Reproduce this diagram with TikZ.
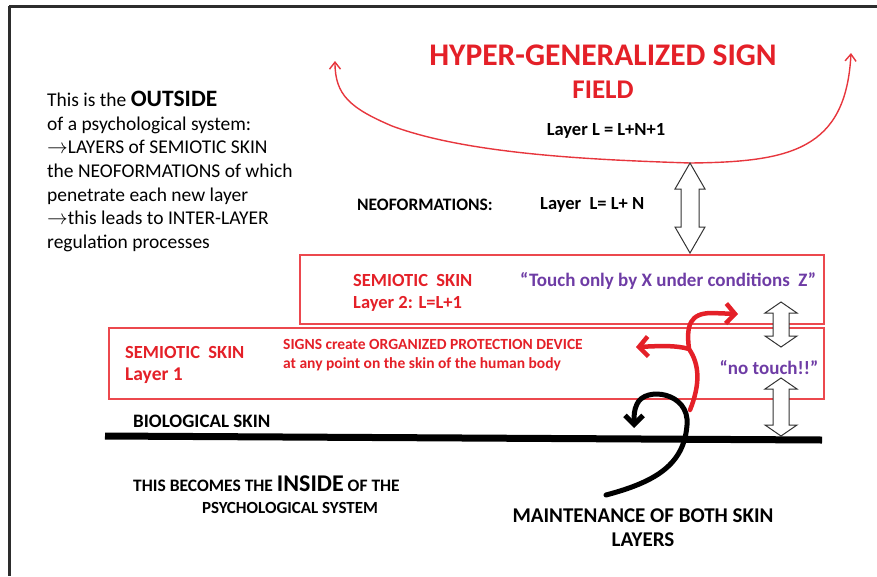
\documentclass[tikz,border=0pt]{standalone}
\usepackage{fontspec}
\setmainfont{Carlito}
\usetikzlibrary{arrows.meta}
\definecolor{signred}{RGB}{228,32,40}
\definecolor{boxred}{RGB}{236,72,78}
\definecolor{touchviolet}{RGB}{110,60,165}
\definecolor{framegray}{RGB}{45,45,45}
\newcommand{\fsz}[2]{\fontsize{#1}{#2}\selectfont}
% hollow up/down arrow: x, y top, y bottom, half head, half shaft, head length
\newcommand{\hollowarrow}[6]{%
  \draw[hollow] (#1,#2) -- (#1+#4,#2+#6) -- (#1+#5,#2+#6) -- (#1+#5,#3-#6)
    -- (#1+#4,#3-#6) -- (#1,#3) -- (#1-#4,#3-#6) -- (#1-#5,#3-#6)
    -- (#1-#5,#2+#6) -- (#1-#4,#2+#6) -- cycle;}

\begin{document}
\begin{tikzpicture}[x=1pt,y=-1pt,
  txt/.style={inner sep=0pt,font=\bfseries},
  redtxt/.style={txt,text=signred},
  violettxt/.style={txt,text=touchviolet},
  skinbox/.style={draw=boxred,line width=1.3pt,inner sep=0pt},
  hollow/.style={draw=black!80,fill=white,line width=1pt,line join=miter},
  fieldcurve/.style={draw=signred!90,line width=1.4pt,
    {Straight Barb[length=7pt,width=11pt]}-{Straight Barb[length=7pt,width=11pt]}},
  redpush/.style={draw=signred,line width=4.5pt,line cap=round,
    -{Straight Barb[length=9pt,width=20pt]}},
  blackpush/.style={draw=black,line width=5pt,line cap=round,
    -{Straight Barb[length=9pt,width=18pt]}}]
\useasboundingbox (0,0) rectangle (877,576);

% frame (top and left only)
\draw[framegray,line width=3pt] (9,6) -- (877,6);
\draw[framegray,line width=3pt] (9,6) -- (9,576);

% the sign field on top
\node[redtxt,font=\bfseries\fsz{31.5}{34}] (hyper) at (603,55) {HYPER-GENERALIZED SIGN};
\node[redtxt,font=\bfseries\fsz{27}{30}] (field) at (603,90) {FIELD};
\coordinate (fieldL) at (335,61);
\coordinate (fieldM) at (690,163);
\coordinate (fieldR) at (851,53);
\draw[fieldcurve] (fieldL) .. controls (335,95) and (350,108) .. (392,126)
  .. controls (470,155) and (600,160) .. (fieldM)
  .. controls (790,162) and (846,150) .. (fieldR);
\node[txt,font=\bfseries\fsz{18.5}{21}] (layerN1) at (606,131) {Layer L = L+N+1};

\node[txt,anchor=west,font=\bfseries\fsz{17.5}{20}] (neo) at (357,205) {NEOFORMATIONS:};
\node[txt,anchor=west,font=\bfseries\fsz{18.5}{21}] (layerN) at (540,205) {Layer\ \ L= L+ N};

% outside text
\node[anchor=north west,align=left,inner sep=0pt,font=\fsz{19.5}{23.6}] (outside) at (47,91)
  {This is the {\bfseries\fsz{23.5}{23.6}OUTSIDE}\\
   of a psychological system:\\
   $\rightarrow$LAYERS of SEMIOTIC SKIN\\
   the NEOFORMATIONS of which\\
   penetrate each new layer\\
   $\rightarrow$this leads to INTER-LAYER\\
   regulation processes};

% skin layers
\node[skinbox,minimum width=524pt,minimum height=69pt] (layer2) at (562,289.5) {};
\node[skinbox,minimum width=715pt,minimum height=71pt] (layer1) at (466.5,363.5) {};

\node[redtxt,anchor=west,font=\bfseries\fsz{18.5}{21}] (sem2) at (353,280) {SEMIOTIC\ \ SKIN};
\node[redtxt,anchor=west,font=\bfseries\fsz{18.5}{21}] (lay2) at (353,304) {Layer 2: L=L+1};
\node[violettxt,anchor=west,font=\bfseries\fsz{19}{22}] (touch) at (520,281)
  {``Touch only by X under conditions\ \ Z''};

\node[redtxt,anchor=west,font=\bfseries\fsz{18.5}{21}] (sem1) at (125,352) {SEMIOTIC\ \ SKIN};
\node[redtxt,anchor=west,font=\bfseries\fsz{19.5}{21}] (lay1) at (125,376) {Layer 1};
\node[redtxt,anchor=west,font=\bfseries\fsz{15.5}{18}] (signs) at (283,344)
  {SIGNS create ORGANIZED PROTECTION DEVICE};
\node[redtxt,anchor=west,font=\bfseries\fsz{15.5}{18}] (point) at (283,364)
  {at any point on the skin of the human body};
\node[violettxt,font=\bfseries\fsz{19}{22}] (notouch) at (769,368) {``no touch!!''};

% neoformation arrows
\hollowarrow{690}{163}{253}{15}{9}{26}
\hollowarrow{781}{302}{347}{16}{8}{11}
\hollowarrow{781}{378}{436}{16}{8}{11}

% biological skin
\coordinate (bioL) at (105,436);
\coordinate (bioR) at (822,440);
\draw[line width=7pt] (bioL) -- (bioR);
\node[txt,anchor=west,font=\bfseries\fsz{19}{21}] (bio) at (133,421) {BIOLOGICAL SKIN};

% maintenance arrows
\coordinate (tail) at (606,495);
\coordinate (cross) at (687,425);
\coordinate (stem) at (690,410);
\coordinate (fork) at (689,349);
\coordinate (tipL) at (636,347);
\coordinate (tipR) at (738,314);
\coordinate (tipB) at (634,428);
\draw[blackpush] (tail) .. controls (655,482) and (684,465) .. (cross)
  .. controls (690,392) and (645,386) .. (637,404)
  .. controls (634,410) and (634,416) .. (tipB);
\draw[redpush] (stem) .. controls (700,385) and (700,365) .. (fork)
  .. controls (675,345) and (660,346) .. (tipL);
\draw[redpush] (fork) .. controls (686,325) and (690,313) .. (712,313) -- (tipR);

% inside text
\node[txt,anchor=west,font=\bfseries\fsz{17.5}{20}] (inside) at (133,484)
  {THIS BECOMES THE {\fsz{24}{26}INSIDE} OF THE};
\node[txt,font=\bfseries\fsz{17}{19}] (psy) at (290,508) {PSYCHOLOGICAL SYSTEM};
\node[txt,font=\bfseries\fsz{21}{24}] (maint) at (643,516) {MAINTENANCE OF BOTH SKIN};
\node[txt,font=\bfseries\fsz{21}{24}] (skinlay) at (643,540) {LAYERS};
\end{tikzpicture}
\end{document}
